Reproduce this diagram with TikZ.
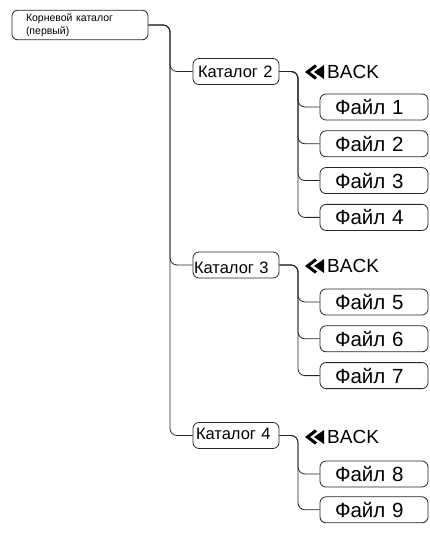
\documentclass[tikz,border=0pt]{standalone}
\usepackage{fontspec}
\setmainfont{Liberation Sans}
\usetikzlibrary{positioning}

\tikzset{
  rootbox/.style={rectangle, rounded corners=6pt, draw=black!85, line width=0.8pt, minimum width=136pt, minimum height=28pt, text width=108pt, inner xsep=14pt, align=left, font=\fontsize{10.5}{13}\selectfont},
  dirbox/.style={rectangle, rounded corners=6pt, draw=black!85, line width=0.8pt, minimum width=86pt, minimum height=26pt, align=left, inner ysep=1pt, font=\fontsize{16.5}{19}\selectfont},
  filebox/.style={rectangle, rounded corners=6pt, draw=black!85, line width=0.8pt, minimum width=108pt, minimum height=26pt, text width=78pt, inner xsep=15pt, inner ysep=1pt, align=left, font=\fontsize{20.5}{23}\selectfont},
  backlbl/.style={inner sep=0pt, anchor=west, font=\fontsize{19}{22}\selectfont},
  link/.style={draw=black!85, line width=0.8pt, rounded corners=7pt},
  rewind/.pic={
    \draw[line width=3pt] (-11pt,6.5pt) -- (-19.5pt,0pt) -- (-11pt,-6.5pt);
    \fill (-13pt,0pt) -- (-3pt,7pt) -- (-3pt,-7pt) -- cycle;
  }
}

\begin{document}
\begin{tikzpicture}[x=1pt, y=-1pt, node distance=10pt]
    \useasboundingbox (0,0) rectangle (429,534);

    % Nodes
    \node (root) [rootbox] at (80,25) {Корневой каталог\\(первый)};

    \node (k2) [dirbox, inner xsep=5pt, text width=76pt] at (236,71.5) {Каталог 2};
    \node (k3) [dirbox, inner xsep=1pt, text width=84pt, text height=17pt, text depth=0pt] at (236,265) {Каталог 3};
    \node (k4) [dirbox, inner xsep=3pt, text width=80pt, text height=12pt, text depth=5pt] at (236,435.5) {Каталог 4};

    \node (back2) [backlbl] at (327,72) {BACK};
    \node (back3) [backlbl] at (327,266) {BACK};
    \node (back4) [backlbl] at (327,437) {BACK};
    \pic at (back2.west) {rewind};
    \pic at (back3.west) {rewind};
    \pic at (back4.west) {rewind};

    \node (f1) [filebox] at (374,107) {Файл 1};
    \node (f2) [filebox, below=of f1] {Файл 2};
    \node (f3) [filebox, below=of f2] {Файл 3};
    \node (f4) [filebox, below=of f3] {Файл 4};

    \node (f5) [filebox] at (374,302) {Файл 5};
    \node (f6) [filebox, below=of f5] {Файл 6};
    \node (f7) [filebox, below=of f6] {Файл 7};

    \node (f8) [filebox] at (374,474) {Файл 8};
    \node (f9) [filebox, below=9pt of f8] {Файл 9};

    \coordinate (trunk) at (170,0);
    \coordinate (sub) at (298,0);

    % Connectors
    \foreach \k in {k2,k3,k4}
        \draw [link] (root.east) -| (trunk |- \k.west) -- (\k.west);

    \foreach \f in {f1,f2,f3,f4}
        \draw [link] (k2.east) -| (sub |- \f.west) -- (\f.west);
    \foreach \f in {f5,f6,f7}
        \draw [link] (k3.east) -| (sub |- \f.west) -- (\f.west);
    \foreach \f in {f8,f9}
        \draw [link] (k4.east) -| (sub |- \f.west) -- (\f.west);

\end{tikzpicture}
\end{document}
